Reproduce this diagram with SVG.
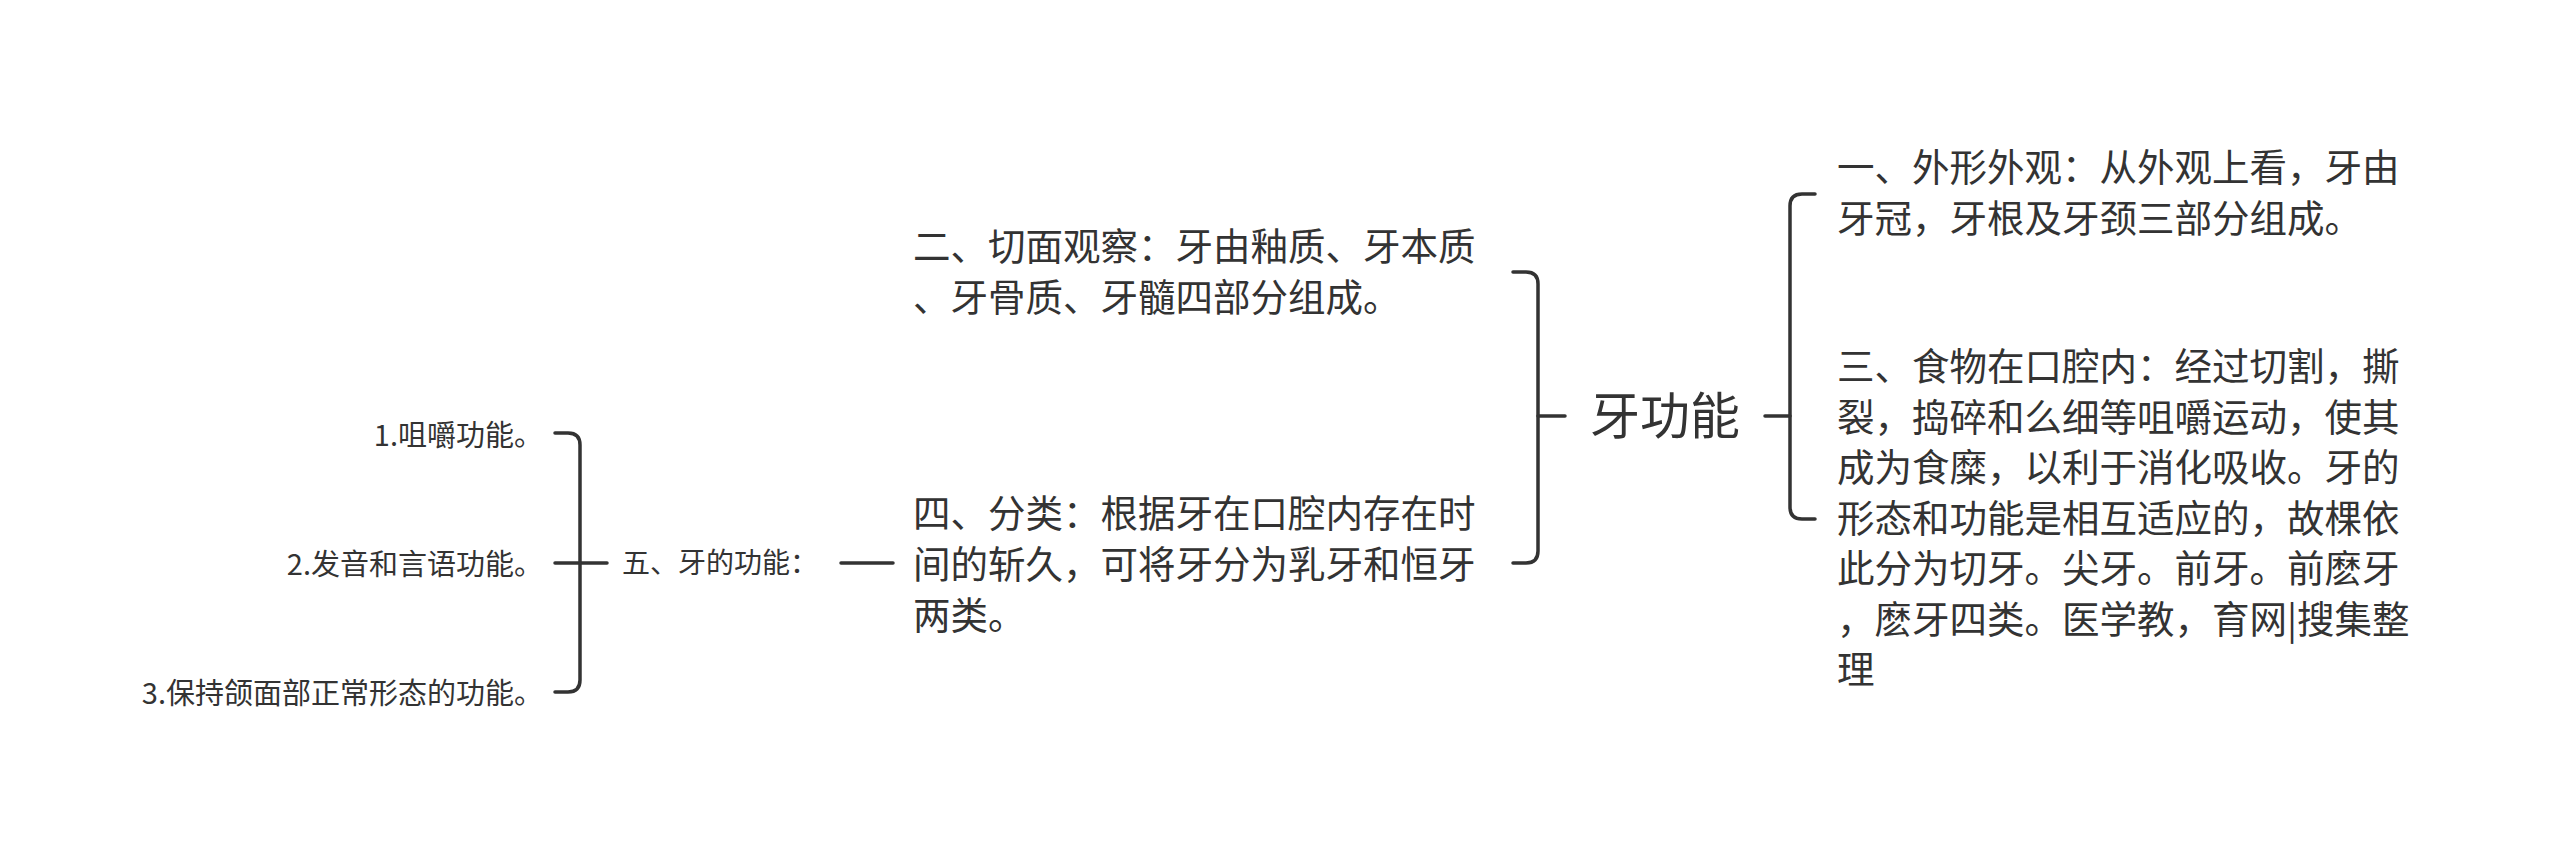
<svg xmlns="http://www.w3.org/2000/svg" width="2560" height="849" viewBox="0 0 2560 849">
<style>
.t{font-family:"Noto Sans CJK SC","Noto Sans",sans-serif;fill:#333;}
.m{font-size:37.5px;}
.s{font-size:28px;}
.l{font-size:29px;}
.r{font-size:50px;}
.c{fill:none;stroke:#333;stroke-width:3.5;stroke-linecap:round;stroke-linejoin:round;}
</style>
<rect width="2560" height="849" fill="#fff"/>
<g id="connectors">
<path class="c" d="M1565,416 H1538"/>
<path class="c" d="M1513,272 H1526 Q1538,272 1538,284 V551 Q1538,563 1526,563 H1513"/>
<path class="c" d="M1765,416 H1790"/>
<path class="c" d="M1815,194 H1802 Q1790,194 1790,206 V507 Q1790,519 1802,519 H1815"/>
<path class="c" d="M893,563 H841"/>
<path class="c" d="M607,563 H555"/>
<path class="c" d="M555,433 H568 Q580,433 580,445 V680 Q580,692 568,692 H555"/>
</g>
<g id="root"><text class="t r" x="1665" y="434" text-anchor="middle">牙功能</text></g>
<g id="n1"><text class="t m" x="1837"><tspan x="1837" y="181">一、外形外观：从外观上看，牙由</tspan><tspan x="1837" y="232">牙冠，牙根及牙颈三部分组成。</tspan></text></g>
<g id="n3"><text class="t m" x="1837"><tspan x="1837" y="380">三、食物在口腔内：经过切割，撕</tspan><tspan x="1837" y="430.5">裂，捣碎和么细等咀嚼运动，使其</tspan><tspan x="1837" y="481">成为食糜，以利于消化吸收。牙的</tspan><tspan x="1837" y="531.5">形态和功能是相互适应的，故棵依</tspan><tspan x="1837" y="582">此分为切牙。尖牙。前牙。前麽牙</tspan><tspan x="1837" y="632.5">，麽牙四类。医学教，育网|搜集整</tspan><tspan x="1837" y="683">理</tspan></text></g>
<g id="n2"><text class="t m" x="913"><tspan x="913" y="260">二、切面观察：牙由釉质、牙本质</tspan><tspan x="913" y="311">、牙骨质、牙髓四部分组成。</tspan></text></g>
<g id="n4"><text class="t m" x="913"><tspan x="913" y="527">四、分类：根据牙在口腔内存在时</tspan><tspan x="913" y="578">间的斩久，可将牙分为乳牙和恒牙</tspan><tspan x="913" y="629">两类。</tspan></text></g>
<g id="n5"><text class="t s" x="622" y="573">五、牙的功能：</text></g>
<g id="n51"><text class="t l" x="543" y="446" text-anchor="end">1.咀嚼功能。</text></g>
<g id="n52"><text class="t l" x="543" y="575" text-anchor="end">2.发音和言语功能。</text></g>
<g id="n53"><text class="t l" x="543" y="704" text-anchor="end">3.保持颌面部正常形态的功能。</text></g>
</svg>
